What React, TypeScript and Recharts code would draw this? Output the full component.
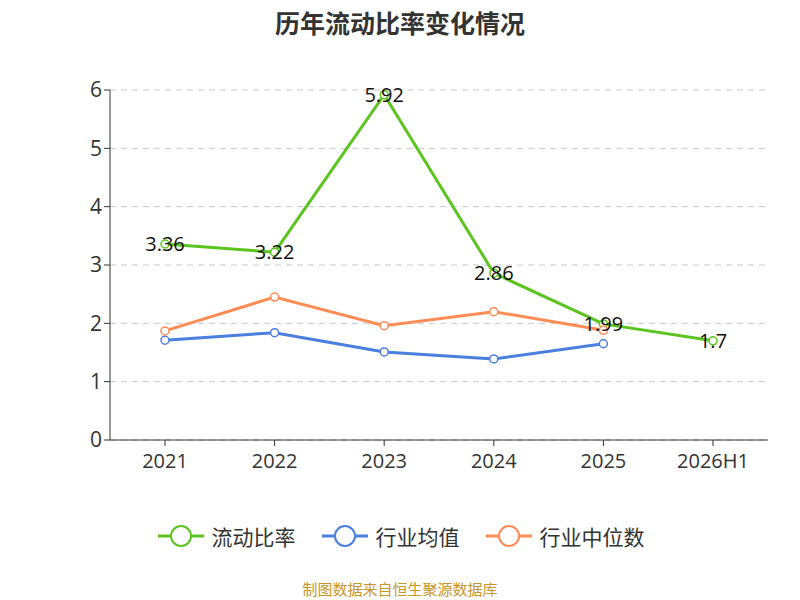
import React from "react";
import { LineChart, Line, XAxis, YAxis, CartesianGrid, LabelList } from "recharts";

const categories = ["2021", "2022", "2023", "2024", "2025", "2026H1"];
const ratio = [3.36, 3.22, 5.92, 2.86, 1.99, 1.7];
const industryMean = [1.71, 1.84, 1.51, 1.39, 1.65, null];
const industryMedian = [1.87, 2.45, 1.96, 2.2, 1.88, null];
const yTicks = [0, 1, 2, 3, 4, 5, 6];

const data = categories.map((c, i) => ({ name: c, ratio: ratio[i], mean: industryMean[i], median: industryMedian[i] }));

const legendItems = [
  { label: "流动比率", color: "#5cc41f" },
  { label: "行业均值", color: "#4a7fe0" },
  { label: "行业中位数", color: "#ff8c55" },
];

export default function App() {
  return (
    <div style={{ position: "absolute", left: 0, top: 0, width: 800, height: 600, background: "#fff", fontFamily: "'Open Sans', 'Noto Sans CJK SC', sans-serif" }}>
      <div style={{ position: "absolute", top: 4, width: 800, textAlign: "center", fontSize: 25, fontWeight: "bold", color: "#333", fontFamily: "'Noto Sans CJK SC', sans-serif" }}>历年流动比率变化情况</div>
      <LineChart width={800} height={600} data={data} margin={{ top: 90, right: 32, left: 50, bottom: 130 }}>
        <CartesianGrid vertical={false} stroke="#c8c8c8" strokeDasharray="6 5" />
        <XAxis dataKey="name" stroke="#333" tick={{ fill: "#333", fontSize: 20 }} tickMargin={8} height={30} padding={{ left: 55, right: 55 }} />
        <YAxis width={60} domain={[0, 6]} ticks={yTicks} stroke="#333" tick={{ fill: "#333", fontSize: 21 }} />
        <Line dataKey="ratio" stroke="#5cc41f" strokeWidth={3} isAnimationActive={false} dot={{ r: 4, fill: "#fff", strokeWidth: 1.5 }}>
          <LabelList dataKey="ratio" position="center" fill="#111" fontSize={20} />
        </Line>
        <Line dataKey="mean" stroke="#4a7fe0" strokeWidth={3} isAnimationActive={false} dot={{ r: 4, fill: "#fff", strokeWidth: 1.5 }} />
        <Line dataKey="median" stroke="#ff8c55" strokeWidth={3} isAnimationActive={false} dot={{ r: 4, fill: "#fff", strokeWidth: 1.5 }} />
      </LineChart>
      <div style={{ position: "absolute", top: 521, width: 800, display: "flex", justifyContent: "center", gap: 24, fontSize: 21, color: "#333", fontFamily: "'Noto Sans CJK SC', sans-serif" }}>
        {legendItems.map((it) => (
          <div key={it.label} style={{ display: "flex", alignItems: "center" }}>
            <svg width={50} height={30}>
              <line x1={2} y1={15} x2={48} y2={15} stroke={it.color} strokeWidth={3} />
              <circle cx={25} cy={15} r={10} fill="#fff" stroke={it.color} strokeWidth={2} />
            </svg>
            <span style={{ marginLeft: 6 }}>{it.label}</span>
          </div>
        ))}
      </div>
      <div style={{ position: "absolute", top: 578, width: 800, textAlign: "center", fontSize: 15, color: "#c8962a", fontFamily: "'Noto Sans CJK SC', sans-serif" }}>制图数据来自恒生聚源数据库</div>
    </div>
  );
}
